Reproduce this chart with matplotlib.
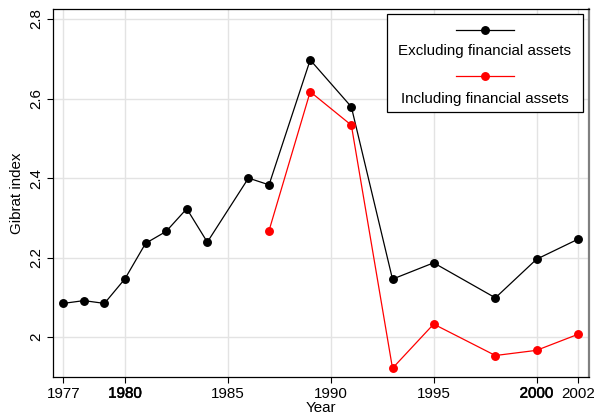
import matplotlib
matplotlib.use("Agg")
import matplotlib.pyplot as plt
from matplotlib.lines import Line2D
from matplotlib.patches import Rectangle
import matplotlib.patheffects as pe

plt.rcParams['font.family'] = ['Liberation Sans', 'DejaVu Sans']

years_excl = [1977, 1978, 1979, 1980, 1981, 1982, 1983, 1984, 1986, 1987,
              1989, 1991, 1993, 1995, 1998, 2000, 2002]
gibrat_excl = [2.085, 2.092, 2.085, 2.147, 2.236, 2.266, 2.323, 2.239, 2.400, 2.383,
               2.697, 2.579, 2.146, 2.187, 2.099, 2.196, 2.246]

years_incl = [1987, 1989, 1991, 1993, 1995, 1998, 2000, 2002]
gibrat_incl = [2.268, 2.617, 2.533, 1.922, 2.033, 1.954, 1.967, 2.007]

xticks = [1977, 1980, 1985, 1990, 1995, 2000, 2002]
yticks = [2.0, 2.2, 2.4, 2.6, 2.8]
ytick_labels = ["2", "2.2", "2.4", "2.6", "2.8"]
label_excl = "Excluding financial assets"
label_incl = "Including financial assets"

FS = 10.9
W, H = 595, 416
fig = plt.figure(figsize=(W / 100, H / 100), dpi=100)
ax = fig.add_axes([53 / W, (H - 377) / H, (589 - 53) / W, (377 - 9) / H])

ax.set_xlim(1976.5, 2002.55)
ax.set_ylim(1.9, 2.825)

ax.plot(years_excl, gibrat_excl, color='black', lw=0.9, marker='o', ms=5.4, zorder=3)
ax.plot(years_incl, gibrat_incl, color='red', lw=0.9, marker='o', ms=5.4, zorder=3)

ax.set_xticks(xticks)
ax.set_xticklabels([str(x) for x in xticks], fontsize=FS)
for lbl in ax.get_xticklabels():
    if lbl.get_text() in ("1980", "2000"):
        lbl.set_path_effects([pe.withStroke(linewidth=0.35, foreground='black')])
ax.set_yticks(yticks)
ax.set_yticklabels(ytick_labels, fontsize=FS, rotation=90, va='center')
ax.tick_params(axis='both', direction='out', length=4, width=0.8, color='black', pad=3)

ax.grid(True, color='#e3e3e3', lw=1.0, zorder=0)
ax.set_axisbelow(True)

for s in ('left', 'bottom', 'top'):
    ax.spines[s].set_color('black')
    ax.spines[s].set_linewidth(0.9)
ax.spines['right'].set_color('#808080')
ax.spines['right'].set_linewidth(1.6)

ax.set_xlabel("Year", fontsize=FS, labelpad=0)
ax.set_ylabel("Gibrat index", fontsize=FS, labelpad=4)

# legend drawn in figure pixel coordinates (Stata-style: key above label)
def fx(px):
    return px / W

def fy(py):
    return 1 - py / H

fig.patches.append(Rectangle((fx(386.5), fy(112)), fx(583) - fx(386.5), fy(14) - fy(112),
                             transform=fig.transFigure, facecolor='white',
                             edgecolor='black', lw=0.9, zorder=5))
for (ly, ty, col, lab) in [(29.5, 51.5, 'black', label_excl), (75.5, 98.5, 'red', label_incl)]:
    fig.add_artist(Line2D([fx(456), fx(513.5)], [fy(ly), fy(ly)], color=col, lw=0.9,
                          transform=fig.transFigure, zorder=6))
    fig.add_artist(Line2D([fx(485)], [fy(ly)], color=col, marker='o', ms=5.4,
                          transform=fig.transFigure, zorder=7))
    fig.text(fx(485), fy(ty), lab, ha='center', va='center', fontsize=FS, zorder=7)

fig.savefig("out.png", dpi=100)
